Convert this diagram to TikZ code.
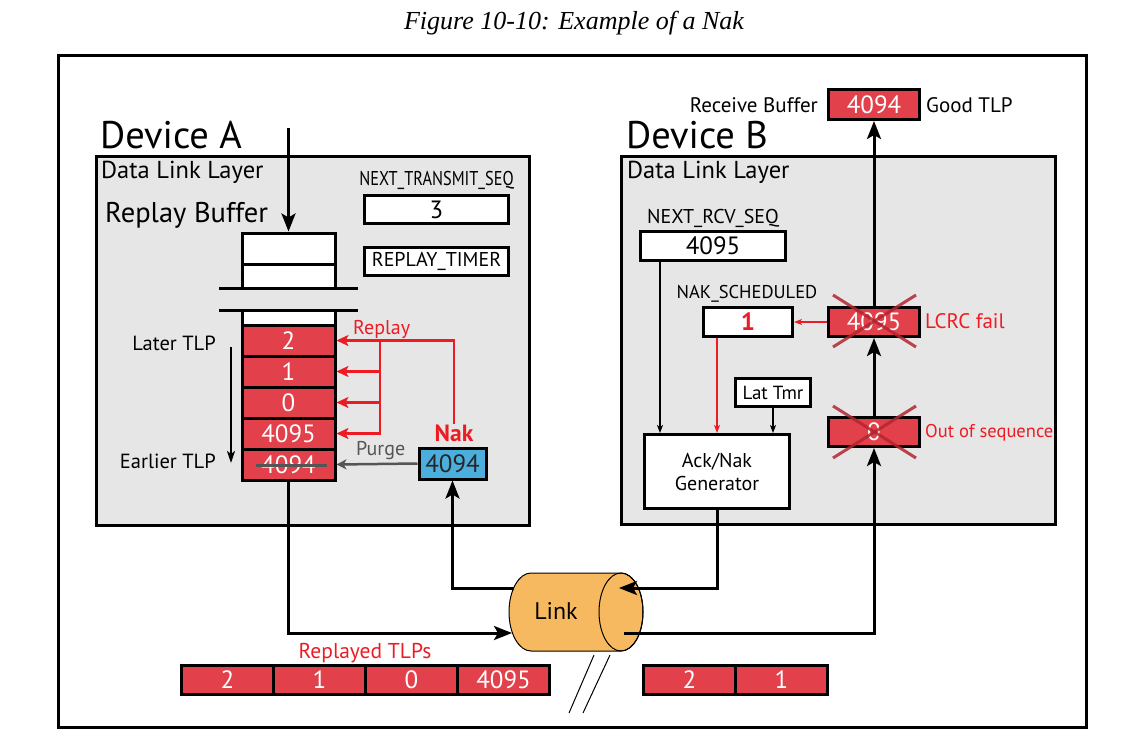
\documentclass[tikz,border=0pt]{standalone}
\usepackage{fontspec}
\setsansfont{PT Sans}
\newfontfamily\titlefont{Liberation Serif}
\usepackage{graphicx}
\usepackage{tikz}
\usetikzlibrary{arrows.meta,calc}
\usepackage{xcolor}

\definecolor{tlpred}{HTML}{E2404A}
\definecolor{nakblue}{HTML}{4BAEDD}
\definecolor{layergray}{HTML}{E6E6E6}
\definecolor{linkorange}{HTML}{F7B95F}
\definecolor{replayred}{HTML}{ED1C24}
\definecolor{purgegray}{HTML}{555555}
\definecolor{xred}{HTML}{B3262F}

\newcommand{\fsz}[1]{\fontsize{#1}{#1}\selectfont}

\begin{document}
\begin{tikzpicture}[x=1pt, y=-1pt,
    every node/.style={inner sep=0pt, font=\sffamily},
    cell/.style={draw, line width=3pt, fill=tlpred, text=white,
                 minimum width=93pt, minimum height=31pt, font=\sffamily\fsz{25}},
    whitecell/.style={cell, fill=white},
    regbox/.style={draw, line width=3pt, fill=white, font=\sffamily\fsz{25}},
    smalltxt/.style={font=\sffamily\fsz{20}},
    midtxt/.style={font=\sffamily\fsz{21}},
    bigarrow/.style={line width=3pt, -{Stealth[length=18pt,width=14pt,inset=4pt]}},
    thinarrow/.style={line width=1.2pt, -{Stealth[length=8pt,width=6pt,inset=2pt]}},
    replayarrow/.style={replayred, line width=2.5pt, -{Stealth[length=12pt,width=11pt,inset=3pt]}},
    purgearrow/.style={purgegray, line width=2.5pt, -{Stealth[length=10pt,width=10pt,inset=3pt]}},
    xmark/.style={xred, line width=3pt, opacity=0.85}]

    \useasboundingbox (0,0) rectangle (1122,747);

    % caption and frame
    \node[font=\titlefont\itshape\fsz{26}, anchor=base] (title) at (574,29) {Figure 10-10: Example of a Nak};
    \draw[line width=3pt] (58.5,55.5) rectangle (1086.5,727.5);

    % Device A
    \node[font=\sffamily\fsz{38.5}, anchor=base west] (devAname) at (100,148) {Device A};
    \filldraw[fill=layergray, line width=3pt] (96.5,156.5) rectangle (529.5,525.5);
    \node[font=\sffamily\fsz{24.5}, anchor=base west] (dllA) at (101,178) {Data Link Layer};
    \node[font=\sffamily\fsz{28.5}, anchor=base west] (rbufname) at (105,222) {Replay Buffer};

    \node[smalltxt, anchor=base] (txseqname) at (436.5,185) {\scalebox{0.815}[1]{NEXT\_TRANSMIT\_SEQ}};
    \node[regbox, minimum width=144pt, minimum height=28pt] (txseq) at (436.5,209.5) {3};
    \node[regbox, minimum width=144pt, minimum height=28pt, font=\sffamily\fsz{20}] (rtimer) at (436.5,261.5) {REPLAY\_TIMER};

    % replay buffer
    \node[whitecell, minimum height=31pt] (bt1) at (288.5,248.5) {};
    \node[whitecell, minimum height=24pt] (bt2) at (288.5,276) {};
    \node[whitecell, minimum height=15pt] (bw) at (288.5,317.5) {};
    \draw[line width=3pt] (219,288) -- (358,288);
    \draw[line width=3pt] (219,310) -- (358,310);
    \node[cell] (c2) at (288.5,340.5) {2};
    \node[cell] (c1) at (288.5,371.5) {1};
    \node[cell] (c0) at (288.5,402.5) {0};
    \node[cell] (c4095) at (288.5,433.5) {4095};
    \node[cell] (c4094) at (288.5,464.5) {4094};
    \draw[purgegray, line width=2.5pt] ([xshift=-33pt,yshift=-1pt]c4094.center) -- ([xshift=38pt,yshift=-1pt]c4094.center);

    \coordinate (feed) at (288.5,128);
    \draw[bigarrow] (feed) -- (bt1.north);

    \node[midtxt, font=\sffamily\fsz{20.5}, anchor=base east] (latertxt) at (216,350) {Later TLP};
    \node[midtxt, font=\sffamily\fsz{20.5}, anchor=base east] (earliertxt) at (216,468) {Earlier TLP};
    \coordinate (ageTop) at (231,347);
    \coordinate (ageBot) at (231,463);
    \draw[line width=2pt, -{Stealth[length=12pt,width=8pt,inset=3pt]}] (ageTop) -- (ageBot);

    % Nak received
    \node[draw, line width=3pt, fill=nakblue, minimum width=67pt, minimum height=31pt,
          font=\sffamily\fsz{25}, text=black!85] (nakbox) at (452.5,463.5) {4094};
    \node[font=\sffamily\bfseries\fsz{23.5}, text=replayred, anchor=base] (naktxt) at (454,441) {Nak};
    \node[font=\sffamily\fsz{20}, text=replayred, anchor=base west] (replaytxt) at (353,334) {Replay};
    \node[font=\sffamily\fsz{20}, text=purgegray, anchor=base west] (purgetxt) at (356,455) {Purge};

    \draw[replayarrow] (naktxt.north) |- (c2.east);
    \coordinate (rjoin) at (380,340.5);
    \draw[replayarrow] (rjoin) |- (c1.east);
    \draw[replayarrow] (rjoin) |- (c0.east);
    \draw[replayarrow] (rjoin) |- (c4095.east);
    \draw[purgearrow] (nakbox.west) -- (c4094.east);

    % Device B
    \node[font=\sffamily\fsz{38.5}, anchor=base west] (devBname) at (626,148) {Device B};
    \filldraw[fill=layergray, line width=3pt] (621.5,156.5) rectangle (1055.5,524.5);
    \node[font=\sffamily\fsz{24.5}, anchor=base west] (dllB) at (627,178) {Data Link Layer};

    \node[cell, minimum width=91pt, minimum height=30pt] (rbuf) at (874,104.5) {4094};
    \node[midtxt, anchor=base east] (rbuftxt) at (818,112) {Receive Buffer};
    \node[midtxt, anchor=base west] (goodtxt) at (926,112) {Good TLP};

    \node[smalltxt, anchor=base] (nrsname) at (713,223) {NEXT\_RCV\_SEQ};
    \node[regbox, minimum width=145pt, minimum height=29pt] (nrs) at (713,246) {4095};
    \node[smalltxt, font=\sffamily\fsz{18.5}, anchor=base] (nakschname) at (747,298) {NAK\_SCHEDULED};
    \node[regbox, minimum width=89pt, minimum height=29pt, text=replayred,
          font=\sffamily\bfseries\fsz{25}] (naksch) at (748,322) {1};
    \node[regbox, minimum width=75pt, minimum height=28pt, font=\sffamily\fsz{19}] (lattmr) at (773,392.5) {Lat Tmr};
    \node[regbox, minimum width=145pt, minimum height=74pt, font=\sffamily\fontsize{20}{23}\selectfont,
          align=center] (gen) at (717,471.5) {Ack/Nak\\Generator};

    \node[cell, minimum width=91pt, minimum height=29pt] (lcrc) at (874,322) {4095};
    \node[cell, minimum width=91pt, minimum height=29pt] (oos) at (874,432) {0};
    \draw[xmark] (833,295) -- (916,347);
    \draw[xmark] (916,295) -- (833,347);
    \draw[xmark] (833,406) -- (916,458);
    \draw[xmark] (916,406) -- (833,458);
    \node[midtxt, text=replayred, anchor=base west] (lcrctxt) at (925,328) {LCRC fail};
    \node[midtxt, font=\sffamily\fsz{18.5}, text=replayred, anchor=base west] (oostxt) at (925,437) {Out of sequence};

    \draw[bigarrow] (lcrc.north) -- (rbuf.south);
    \draw[bigarrow] (oos.north) -- (lcrc.south);
    \draw[replayred, line width=1.2pt, -{Stealth[length=8pt,width=6pt,inset=2pt]}] (lcrc.west) -- (naksch.east);
    \coordinate (rcvtap) at ([xshift=17pt]gen.north west);
    \draw[thinarrow] (rcvtap |- nrs.south) -- (rcvtap);
    \draw[replayred, line width=1.2pt, -{Stealth[length=8pt,width=6pt,inset=2pt]}] (gen.north |- naksch.south) -- (gen.north);
    \draw[thinarrow] (lattmr.south) -- (lattmr.south |- gen.north);

    % Link
    \filldraw[fill=linkorange, line width=1pt] (531,573) -- (621,573)
        arc[start angle=-90, end angle=90, x radius=22, y radius=39] -- (531,651)
        arc[start angle=90, end angle=270, x radius=22, y radius=39] -- cycle;
    \draw[line width=1pt] (621,612) ellipse[x radius=22, y radius=39];
    \node[font=\sffamily\fsz{24}] (link) at (556,611) {Link};
    \draw[line width=1pt] (594,655) -- (569,713);
    \draw[line width=1pt] (610,655) -- (583,713);

    \coordinate (linkin) at (512,633);
    \coordinate (linkA) at (514,588);
    \coordinate (linkB) at (619,588);
    \coordinate (linkC) at (624,633);
    \draw[bigarrow] (c4094.south) |- (linkin);
    \draw[bigarrow] (linkA) -| (nakbox.south);
    \draw[bigarrow] (gen.south) |- (linkB);
    \draw[bigarrow] (linkC) -| (oos.south);

    % TLPs on the wire
    \node[font=\sffamily\fsz{21.5}, text=replayred, anchor=base] (replayedtxt) at (365,658) {Replayed TLPs};
    \node[cell, minimum width=92pt, minimum height=29pt] (r2) at (227.5,680) {2};
    \node[cell, minimum width=92pt, minimum height=29pt] (r1) at (319.5,680) {1};
    \node[cell, minimum width=92pt, minimum height=29pt] (r0) at (411.5,680) {0};
    \node[cell, minimum width=92pt, minimum height=29pt] (r4095) at (503.5,680) {4095};
    \node[cell, minimum width=92pt, minimum height=29pt] (s2) at (689.5,680) {2};
    \node[cell, minimum width=92pt, minimum height=29pt] (s1) at (781.5,680) {1};
\end{tikzpicture}
\end{document}
